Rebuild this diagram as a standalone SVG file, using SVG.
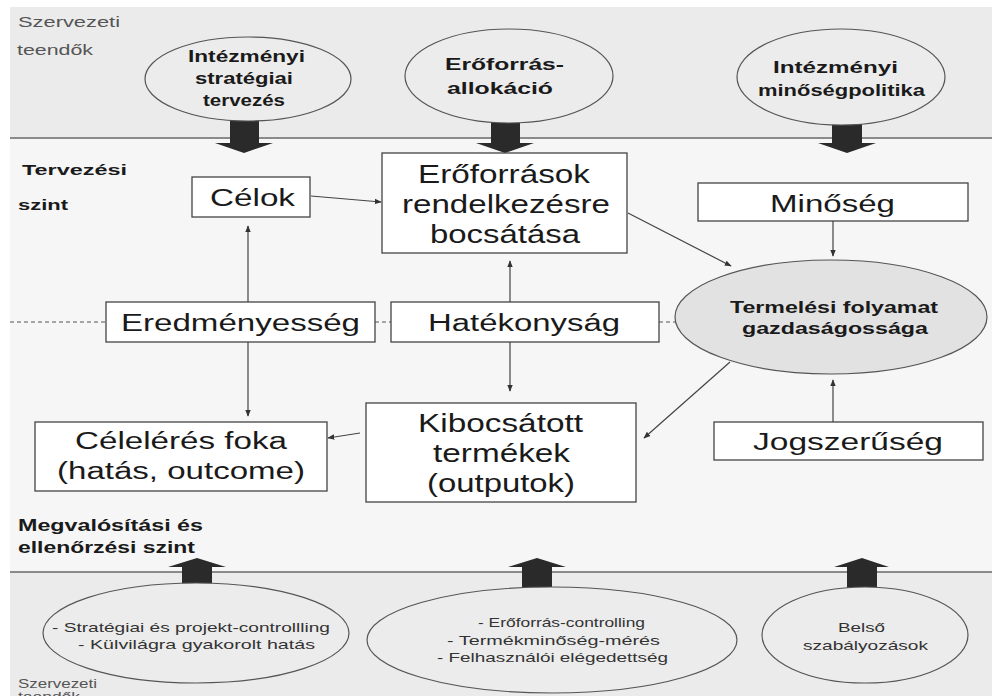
<svg xmlns="http://www.w3.org/2000/svg" width="992" height="696" viewBox="0 0 992 696">
<defs>
<marker id="ah" viewBox="0 0 10 10" refX="9" refY="5" markerWidth="7" markerHeight="7" markerUnits="userSpaceOnUse" orient="auto">
<path d="M0,1 L10,5 L0,9 Z" fill="#333"/>
</marker>
<style>
.band{fill:#ebebeb}
.mid{fill:#f6f6f6}
.sep{stroke:#8a8a8a;stroke-width:2}
.ell{fill:#ececec;stroke:#555;stroke-width:1.2}
.ellg{fill:#e2e2e2;stroke:#555;stroke-width:1.2}
.box{fill:#ffffff;stroke:#444;stroke-width:1.3}
.big{fill:#2a2a2a}
.t{font-family:"Liberation Sans",Arial,sans-serif;fill:#1a1a1a}
.eb{font-size:17px;font-weight:bold;text-anchor:middle}
.bx{font-size:23px;text-anchor:middle}
.bx2{font-size:25px;text-anchor:middle}
.sm{font-size:13.5px;text-anchor:middle;fill:#333}
.lbl{font-size:15px;fill:#555}
.lb{font-size:15px;font-weight:bold}
.con{stroke:#444;stroke-width:1.2;fill:none;marker-end:url(#ah)}
.dash{stroke:#555;stroke-width:1;stroke-dasharray:4,3;fill:none}
</style>
</defs>
<rect x="0" y="0" width="992" height="696" fill="#ffffff"/>
<rect class="band" x="10" y="7" width="982" height="131"/>
<rect class="mid" x="10" y="138" width="982" height="434"/>
<rect class="band" x="10" y="572" width="982" height="124"/>
<line class="sep" x1="10" y1="138" x2="992" y2="138"/>
<line class="sep" x1="10" y1="572" x2="992" y2="572"/>

<g id="labels">
<text class="t lbl" x="18" y="27" textLength="102" lengthAdjust="spacingAndGlyphs">Szervezeti</text>
<text class="t lbl" x="17" y="55" textLength="76" lengthAdjust="spacingAndGlyphs">teendők</text>
<text class="t lb" x="22" y="175" textLength="105" lengthAdjust="spacingAndGlyphs">Tervezési</text>
<text class="t lb" x="18" y="210" textLength="50" lengthAdjust="spacingAndGlyphs">szint</text>
<text class="t lb" x="18" y="531" style="font-size:17px" textLength="185" lengthAdjust="spacingAndGlyphs">Megvalósítási és</text>
<text class="t lb" x="18" y="553" style="font-size:17px" textLength="177" lengthAdjust="spacingAndGlyphs">ellenőrzési szint</text>
<text class="t lbl" x="18" y="688" style="font-size:13px" textLength="79" lengthAdjust="spacingAndGlyphs">Szervezeti</text>
<text class="t lbl" x="18" y="701" style="font-size:13px" textLength="62" lengthAdjust="spacingAndGlyphs">teendők</text>
</g>

<g id="connectors">
<line class="dash" x1="10" y1="322" x2="106" y2="322"/>
<line class="dash" x1="375" y1="322" x2="391" y2="322"/>
<line class="dash" x1="659" y1="322" x2="675" y2="322"/>
<line class="con" x1="311" y1="196" x2="381" y2="202"/>
<line class="con" x1="248" y1="302" x2="248" y2="226"/>
<line class="con" x1="248" y1="342" x2="248" y2="416"/>
<line class="con" x1="510" y1="302" x2="510" y2="261"/>
<line class="con" x1="510" y1="342" x2="510" y2="391"/>
<line class="con" x1="628" y1="213" x2="731" y2="266"/>
<line class="con" x1="833" y1="221" x2="833" y2="256"/>
<line class="con" x1="730" y1="362" x2="644" y2="438"/>
<line class="con" x1="833" y1="422" x2="833" y2="380"/>
<line class="con" x1="360" y1="433" x2="328" y2="438"/>
</g>

<g id="bigarrows">
<path class="big" d="M230,120 L259,120 L259,143 L273,143 L244,153 L215,143 L230,143 Z"/>
<path class="big" d="M491,120 L520,120 L520,143 L534,143 L505,153 L476,143 L491,143 Z"/>
<path class="big" d="M832,122 L862,122 L862,143 L876,143 L847,153 L818,143 L832,143 Z"/>
<path class="big" d="M182,590 L212,590 L212,567 L226,567 L197,558 L168,567 L182,567 Z"/>
<path class="big" d="M522,590 L552,590 L552,567 L566,567 L537,558 L508,567 L522,567 Z"/>
<path class="big" d="M847,590 L877,590 L877,567 L889,567 L862,558 L834,567 L847,567 Z"/>
</g>

<g id="e-strat">
<ellipse class="ell" cx="248" cy="79" rx="103" ry="42"/>
<text class="t eb" x="246.5" y="62" textLength="117" lengthAdjust="spacingAndGlyphs">Intézményi</text>
<text class="t eb" x="244" y="84" textLength="98" lengthAdjust="spacingAndGlyphs">stratégiai</text>
<text class="t eb" x="244" y="106" textLength="82" lengthAdjust="spacingAndGlyphs">tervezés</text>
</g>
<g id="e-eroforras">
<ellipse class="ell" cx="509" cy="76" rx="104" ry="47"/>
<text class="t eb" x="504.5" y="70" textLength="119" lengthAdjust="spacingAndGlyphs">Erőforrás-</text>
<text class="t eb" x="500" y="94" textLength="106" lengthAdjust="spacingAndGlyphs">allokáció</text>
</g>
<g id="e-minoseg">
<ellipse class="ell" cx="841" cy="77" rx="104" ry="48"/>
<text class="t eb" x="835.5" y="73" textLength="125" lengthAdjust="spacingAndGlyphs">Intézményi</text>
<text class="t eb" x="841.5" y="96" textLength="167" lengthAdjust="spacingAndGlyphs">minőségpolitika</text>
</g>

<g id="celok">
<rect class="box" x="192" y="177" width="118" height="40"/>
<text class="t bx" x="252.5" y="206" textLength="85" lengthAdjust="spacingAndGlyphs">Célok</text>
</g>
<g id="eroforrasok">
<rect class="box" x="382" y="153" width="245" height="100"/>
<text class="t bx2" x="504" y="183" textLength="172" lengthAdjust="spacingAndGlyphs">Erőforrások</text>
<text class="t bx2" x="506" y="213" textLength="208" lengthAdjust="spacingAndGlyphs">rendelkezésre</text>
<text class="t bx2" x="505" y="243" textLength="150" lengthAdjust="spacingAndGlyphs">bocsátása</text>
</g>
<g id="minoseg">
<rect class="box" x="698" y="183" width="270" height="38"/>
<text class="t bx" x="832.5" y="212" textLength="125" lengthAdjust="spacingAndGlyphs">Minőség</text>
</g>
<g id="eredmenyesseg">
<rect class="box" x="106" y="302" width="269" height="40"/>
<text class="t bx" x="240.5" y="331" textLength="239" lengthAdjust="spacingAndGlyphs">Eredményesség</text>
</g>
<g id="hatekonysag">
<rect class="box" x="391" y="302" width="268" height="40"/>
<text class="t bx" x="524" y="331" textLength="192" lengthAdjust="spacingAndGlyphs">Hatékonyság</text>
</g>
<g id="termelesi">
<ellipse class="ellg" cx="831" cy="317" rx="156" ry="57"/>
<text class="t eb" x="834" y="313" style="font-size:16px" textLength="208" lengthAdjust="spacingAndGlyphs">Termelési folyamat</text>
<text class="t eb" x="835" y="334" style="font-size:16px" textLength="186" lengthAdjust="spacingAndGlyphs">gazdaságossága</text>
</g>
<g id="celeleres">
<rect class="box" x="35" y="422" width="292" height="69"/>
<text class="t bx" x="181" y="449" textLength="212" lengthAdjust="spacingAndGlyphs">Célelérés foka</text>
<text class="t bx" x="181" y="479" textLength="248" lengthAdjust="spacingAndGlyphs">(hatás, outcome)</text>
</g>
<g id="kibocsatott">
<rect class="box" x="366" y="403" width="270" height="99"/>
<text class="t bx2" x="500.5" y="432" textLength="165" lengthAdjust="spacingAndGlyphs">Kibocsátott</text>
<text class="t bx2" x="501.5" y="462" textLength="137" lengthAdjust="spacingAndGlyphs">termékek</text>
<text class="t bx2" x="501" y="492" textLength="148" lengthAdjust="spacingAndGlyphs">(outputok)</text>
</g>
<g id="jogszeruseg">
<rect class="box" x="714" y="422" width="269" height="38"/>
<text class="t bx" x="848" y="450" textLength="190" lengthAdjust="spacingAndGlyphs">Jogszerűség</text>
</g>

<g id="e-controlling">
<ellipse class="ell" cx="196" cy="633" rx="153" ry="50"/>
<text class="t sm" x="191" y="632" textLength="278" lengthAdjust="spacingAndGlyphs">- Stratégiai és projekt-controllling</text>
<text class="t sm" x="196.5" y="649" textLength="237" lengthAdjust="spacingAndGlyphs">- Külvilágra gyakorolt hatás</text>
</g>
<g id="e-eroforras-controlling">
<ellipse class="ell" cx="552" cy="640" rx="185" ry="53"/>
<text class="t sm" x="561.5" y="627" textLength="167" lengthAdjust="spacingAndGlyphs">- Erőforrás-controlling</text>
<text class="t sm" x="553.5" y="645" textLength="213" lengthAdjust="spacingAndGlyphs">- Termékminőség-mérés</text>
<text class="t sm" x="552.5" y="662" textLength="231" lengthAdjust="spacingAndGlyphs">- Felhasználói elégedettség</text>
</g>
<g id="e-belso">
<ellipse class="ell" cx="865" cy="635" rx="103" ry="48"/>
<text class="t sm" x="861.5" y="632" textLength="47" lengthAdjust="spacingAndGlyphs">Belső</text>
<text class="t sm" x="865.5" y="650" textLength="125" lengthAdjust="spacingAndGlyphs">szabályozások</text>
</g>
</svg>
